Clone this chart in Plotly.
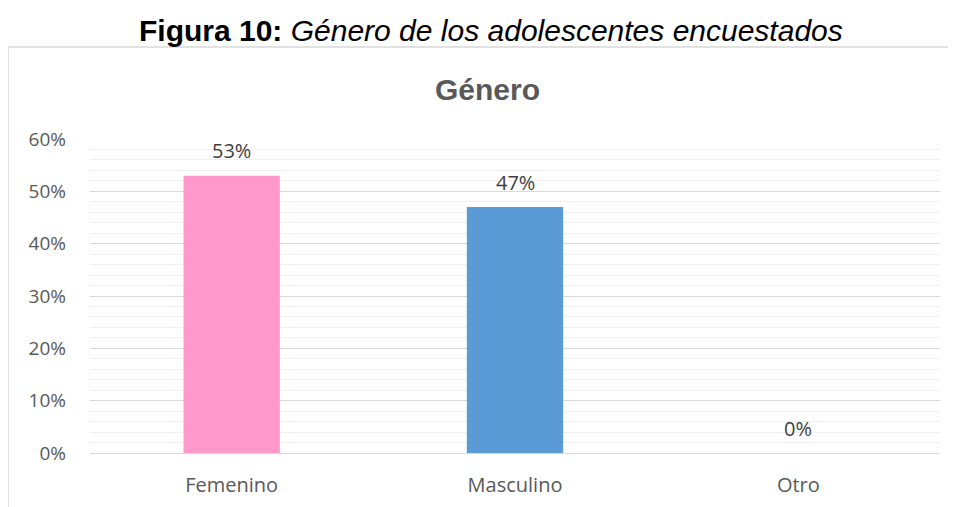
import plotly.graph_objects as go

# ── data ──────────────────────────────────────────────────────────────────────
categories = ["Femenino", "Masculino", "Otro"]
values = [0.53, 0.47, 0.0]
labels = ["53%", "47%", "0%"]
bar_colors = ["#ff99cc", "#5b9bd5", "#a5a5a5"]

tick_vals = [0, 0.1, 0.2, 0.3, 0.4, 0.5, 0.6]
tick_text = ["0%", "10%", "20%", "30%", "40%", "50%", "60%"]

_C_TEXT = "#595959"
_C_GRID = "#d9d9d9"
_C_MINOR = "#f0f0f0"

fig = go.Figure()
fig.add_trace(go.Bar(
    x=categories, y=values,
    marker=dict(color=bar_colors, line=dict(width=0)),
    hoverinfo="x+y",
))

# data labels above each bar
for cat, val, lab in zip(categories, values, labels):
    fig.add_annotation(
        x=cat, y=val, text=lab, showarrow=False,
        yanchor="middle", yshift=25,
        font=dict(family="Open Sans", size=20, color="#404040"),
    )

# outer chart frame
fig.add_shape(
    type="rect", xref="paper", yref="paper",
    x0=-0.0965, x1=1.2, y0=-0.6, y1=1.293,
    line=dict(color=_C_GRID, width=1.5), fillcolor="rgba(0,0,0,0)",
    layer="below",
)

fig.add_annotation(
    x=0.472, y=1.347, xref="paper", yref="paper",
    yanchor="middle",
    text="<b>Figura 10:</b> <i>Género de los adolescentes encuestados</i>",
    showarrow=False,
    font=dict(family="Liberation Sans", size=30, color="#000000"),
)
fig.add_annotation(
    x=0.468, y=1.159, xref="paper", yref="paper",
    text="<b>Género</b>", showarrow=False,
    font=dict(family="Liberation Sans", size=30, color=_C_TEXT),
    yanchor="middle",
)

fig.update_layout(
    width=956, height=507,
    margin=dict(l=82, r=24, t=131, b=62),
    paper_bgcolor="white", plot_bgcolor="white",
    bargap=0.66, showlegend=False,
    xaxis=dict(
        showline=False, ticks="",
        tickfont=dict(family="Open Sans", size=20, color=_C_TEXT),
        ticklabelstandoff=18,
    ),
    yaxis=dict(
        range=[0, 0.6], tickvals=tick_vals, ticktext=tick_text,
        showgrid=True, gridcolor=_C_GRID, gridwidth=1,
        zeroline=True, zerolinecolor=_C_GRID, zerolinewidth=1,
        tickfont=dict(family="Open Sans", size=19, color=_C_TEXT),
        ticklabelstandoff=23,
        minor=dict(dtick=0.02, showgrid=True, gridcolor=_C_MINOR, gridwidth=1),
    ),
)

fig.write_html("out.html")
